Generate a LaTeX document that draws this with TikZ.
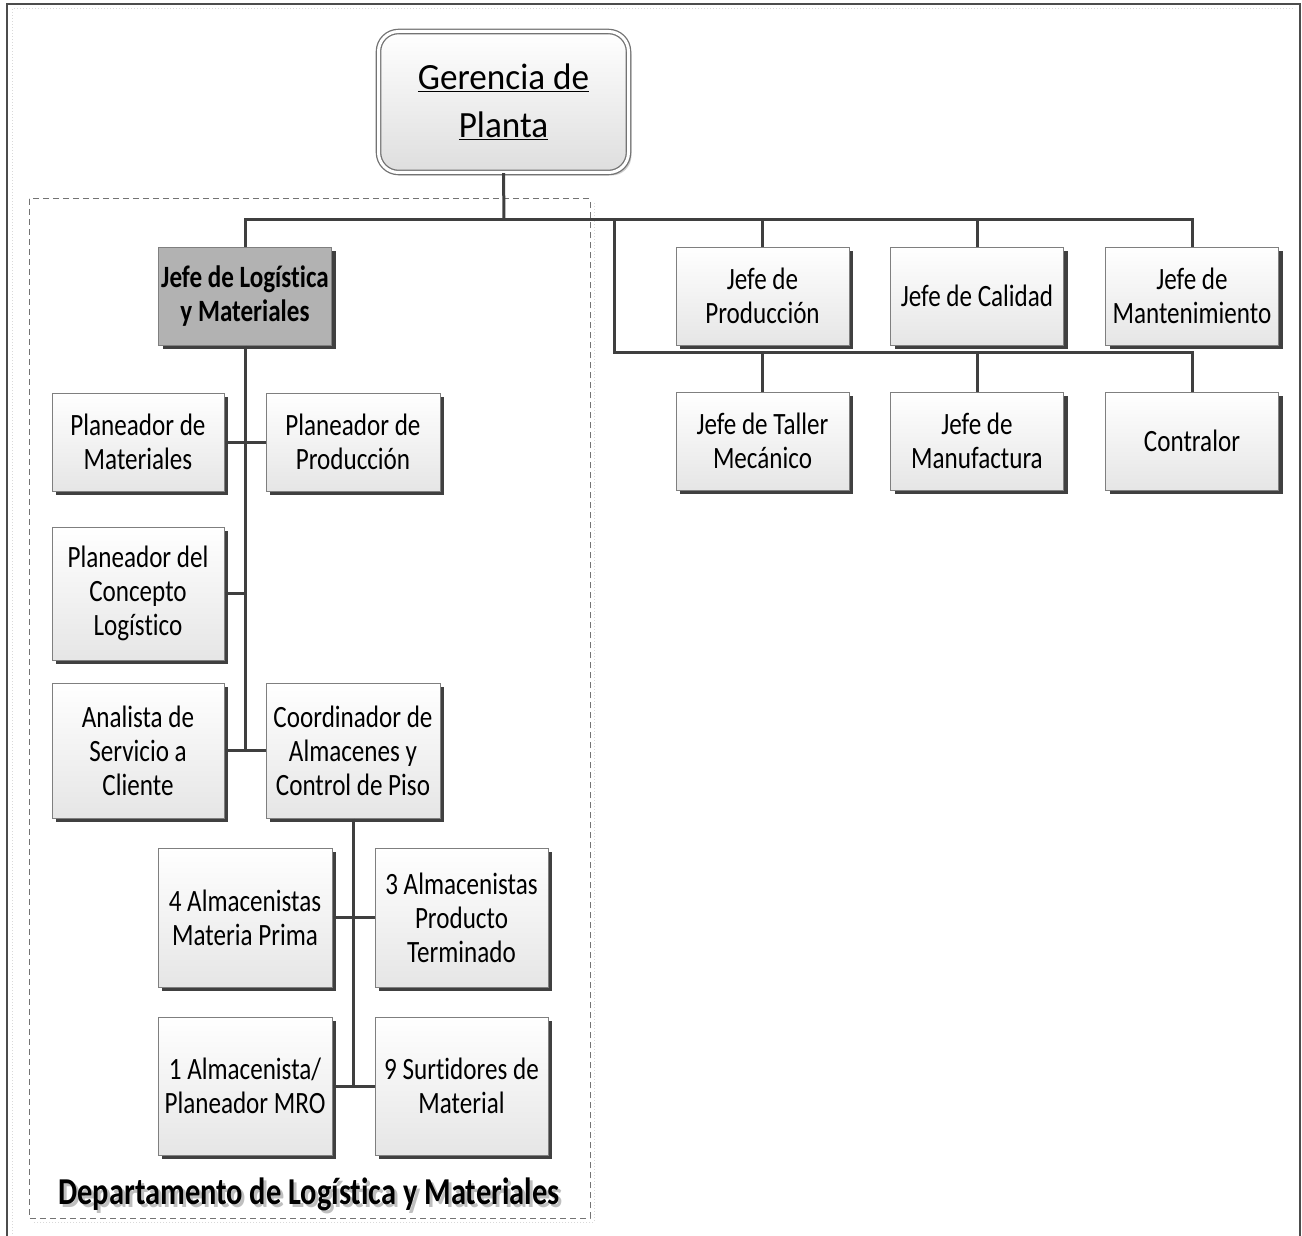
\documentclass[tikz,border=0pt]{standalone}
\usepackage{fontspec}
\setmainfont{Carlito}[Ligatures=NoCommon]
\newfontfamily\boxfont{Carlito}[FakeStretch=0.81, Ligatures=NoCommon]
\newfontfamily\titlefont{Carlito}[FakeStretch=0.95, Ligatures=NoCommon]
\newfontfamily\labelfont{Carlito}[FakeStretch=0.80, Ligatures=NoCommon]
\usetikzlibrary{shadows}
\definecolor{linec}{HTML}{3F3F3F}
\definecolor{boxborder}{HTML}{7F7F7F}
\tikzset{
  orgbox/.style={draw=boxborder, line width=1pt, top color=white, bottom color=black!10,
    minimum width=173pt, minimum height=98pt, inner sep=1pt, align=center,
    font=\boxfont\fontsize{31}{34}\selectfont,
    drop shadow={shadow xshift=4pt, shadow yshift=-4pt, fill=black!75, opacity=1}},
  headbox/.style={orgbox, fill=black!30, top color=black!30, bottom color=black!30,
    font=\boxfont\bfseries\fontsize{31}{34}\selectfont},
  conn/.style={draw=linec, line width=3pt},
  lblstyle/.style={font=\labelfont\bfseries\fontsize{38}{40}\selectfont},
}
\newcommand{\ulinetext}[1]{\underline{#1}}
\newcommand{\shadowtext}[1]{\makebox[0pt][l]{\hspace{3pt}\raisebox{-3pt}{\textcolor{black!25}{#1}}}#1}
\begin{document}
\begin{tikzpicture}[x=1pt, y=-1pt]
\useasboundingbox (0,0) rectangle (1302,1236);
\fill[white] (0,0) rectangle (1302,1236);
% outer frame
\draw[black!70, line width=2pt] (7,1240) -- (7,4) -- (1300,4) -- (1300,1240);
\draw[black!15, dotted, line width=1pt] (12,1240) -- (12,9) -- (1295,9);
% dashed department group
\draw[black!55, dashed, dash pattern=on 6pt off 4pt, line width=1pt] (29,199) rectangle (590,1218);
\draw[black!15, dotted, line width=1pt] (594,203) -- (594,1222) -- (33,1222);

% top node
\node[draw=black!55, line width=1.3pt, double=white, double distance=3pt,
  rounded corners=20pt, top color=white, bottom color=black!13,
  minimum width=250pt, minimum height=141pt, align=center,
  font=\titlefont\fontsize{37}{48}\selectfont,
  drop shadow={shadow xshift=3pt, shadow yshift=-3pt, fill=black, opacity=0.2}]
  (ger) at (503.5,102) {\ulinetext{Gerencia de}\\\ulinetext{Planta}};

% level 1
\node[headbox] (log) at (245,296) {Jefe de Logística\\y Materiales};
\node[orgbox] (prod) at (762.5,296) {Jefe de\\Producción};
\node[orgbox] (cal) at (977,296) {Jefe de Calidad};
\node[orgbox] (mant) at (1192,296) {Jefe de\\Mantenimiento};
\node[orgbox] (taller) at (762.5,441) {Jefe de Taller\\Mecánico};
\node[orgbox] (manu) at (977,441) {Jefe de\\Manufactura};
\node[orgbox] (contr) at (1192,441) {Contralor};

% logistics department
\node[orgbox, minimum width=172pt] (pmat) at (138,442) {Planeador de\\Materiales};
\node[orgbox, minimum width=174pt] (pprod) at (353,442) {Planeador de\\Producción};
\node[orgbox, minimum width=172pt, minimum height=133pt] (conc) at (138,593.5) {Planeador del\\Concepto\\Logístico};
\node[orgbox, minimum width=172pt, minimum height=135pt] (anal) at (138,750.5) {Analista de\\Servicio a\\Cliente};
\node[orgbox, minimum width=174pt, minimum height=135pt] (coord) at (353,750.5) {Coordinador de\\Almacenes y\\Control de Piso};
\node[orgbox, minimum width=174pt, minimum height=139pt] (alm4) at (245,917.5) {4 Almacenistas\\Materia Prima};
\node[orgbox, minimum height=139pt] (alm3) at (461.5,917.5) {3 Almacenistas\\Producto\\Terminado};
\node[orgbox, minimum width=174pt, minimum height=138pt] (alm1) at (245,1086) {1 Almacenista/\\Planeador MRO};
\node[orgbox, minimum height=138pt] (surt) at (461.5,1086) {9 Surtidores de\\Material};

% department label with text shadow
\node[lblstyle, text=black] (lbl) at (309,1196) {\shadowtext{Departamento de Logística y Materiales}};

% connectors
\coordinate (bus) at (504,219);
\coordinate (rb) at (614,219);
\coordinate (bus2) at (614,352);
\path[conn] (ger.south) -- (bus);
\path[conn] (log.north) -- (log.north |- bus) -- (mant.north |- bus) -- (mant.north);
\path[conn] (prod.north) -- (prod.north |- bus);
\path[conn] (cal.north) -- (cal.north |- bus);
\path[conn] (rb) -- (bus2) -- (bus2 -| contr.north) -- (contr.north);
\path[conn] (taller.north) -- (taller.north |- bus2);
\path[conn] (manu.north) -- (manu.north |- bus2);
\path[conn] (log.south) -- (log.south |- anal.east);
\path[conn] (pmat.east) -- (pprod.west);
\path[conn] (conc.east) -- (conc.east -| log.south);
\path[conn] (anal.east) -- (coord.west);
\path[conn] (coord.south) -- (coord.south |- alm1.east);
\path[conn] (alm4.east) -- (alm3.west);
\path[conn] (alm1.east) -- (surt.west);
\end{tikzpicture}
\end{document}
